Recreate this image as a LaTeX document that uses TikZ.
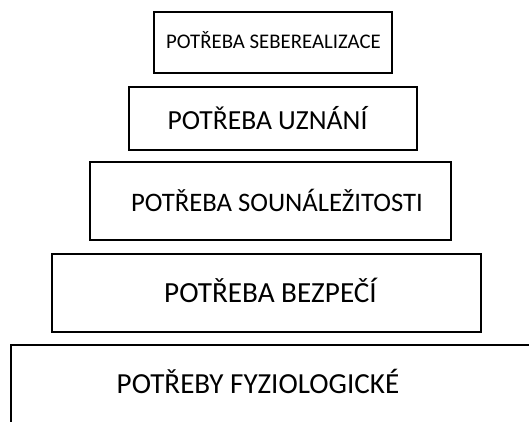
\documentclass[tikz,border=0pt]{standalone}
\usepackage{fontspec}
\setmainfont{Carlito}
\begin{document}
\begin{tikzpicture}[x=1pt,y=-1pt,
  lvl/.style={draw=black,line width=1.8pt},
  lbl/.style={anchor=base,inner sep=0pt}]
\useasboundingbox (0,0) rectangle (529,421);
\clip (0,0) rectangle (529,421);
\fill[white] (0,0) rectangle (529,421);
\draw[lvl] (154,12) rectangle (392,73);
\node[lbl,font=\fontsize{20.8}{24}\selectfont] (t1) at (273.5,48.3) {POTŘEBA SEBEREALIZACE};
\draw[lvl] (129,87) rectangle (417,150);
\node[lbl,font=\fontsize{27.6}{30}\selectfont] (t2) at (267.5,129) {POTŘEBA UZNÁNÍ};
\draw[lvl] (90,162) rectangle (451,240);
\node[lbl,font=\fontsize{26.7}{30}\selectfont] (t3) at (277,211) {POTŘEBA SOUNÁLEŽITOSTI};
\draw[lvl] (52,254) rectangle (481,332);
\node[lbl,font=\fontsize{29.2}{32}\selectfont] (t4) at (270.5,302) {POTŘEBA BEZPEČÍ};
\draw[lvl] (11,440) -- (11,345) -- (540,345);
\node[lbl,font=\fontsize{29.1}{32}\selectfont] (t5) at (258,393) {POTŘEBY FYZIOLOGICKÉ};
\end{tikzpicture}
\end{document}
